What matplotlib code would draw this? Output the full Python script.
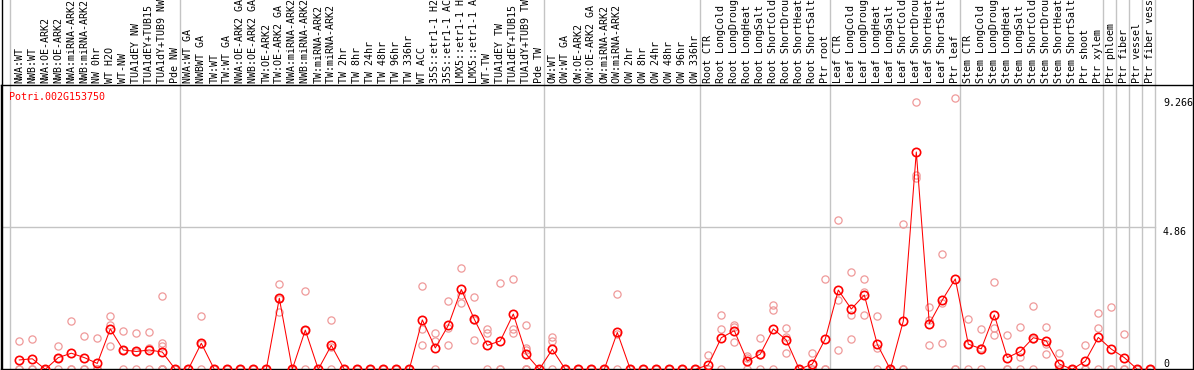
import matplotlib
matplotlib.use("Agg")
import matplotlib.pyplot as plt
from matplotlib.transforms import blended_transform_factory
import numpy as np

# ---------------- data ----------------
gene_id = "Potri.002G153750"

labels_g1 = ["NWA:WT", "NWB:WT", "NWA:OE-ARK2", "NWB:OE-ARK2", "NWA:miRNA-ARK2",
             "NWB:miRNA-ARK2", "NW 0hr", "WT H2O", "WT-NW", "TUA1dEY NW",
             "TUA1dEY+TUB15 NW", "TUA1dY+TUB9 NW", "Pde NW"]
labels_g2 = ["NWA:WT GA", "NWBWT GA", "TW:WT", "TW:WT GA", "NWA:OE-ARK2 GA",
             "NWB:OE-ARK2 GA", "TW:OE-ARK2", "TW:OE-ARK2 GA", "NWA:miRNA-ARK2 GA",
             "NWB:miRNA-ARK2 GA", "TW:miRNA-ARK2", "TW:miRNA-ARK2 GA", "TW 2hr", "TW 8hr",
             "TW 24hr", "TW 48hr", "TW 96hr", "TW 336hr", "WT ACC", "35S::etr1-1 H2O",
             "35S::etr1-1 ACC", "LMX5::etr1-1 H2O", "LMX5::etr1-1 ACC", "WT-TW",
             "TUA1dEY TW", "TUA1dEY+TUB15 TW", "TUA1dY+TUB9 TW", "Pde TW"]
labels_g3 = ["OW:WT", "OW:WT GA", "OW:OE-ARK2", "OW:OE-ARK2 GA", "OW:miRNA-ARK2",
             "OW:miRNA-ARK2 GA", "OW 2hr", "OW 8hr", "OW 24hr", "OW 48hr", "OW 96hr",
             "OW 336hr"]
labels_g4 = ["Root CTR", "Root LongCold", "Root LongDrought", "Root LongHeat",
             "Root LongSalt", "Root ShortCold", "Root ShortDrought", "Root ShortHeat",
             "Root ShortSalt", "Ptr root"]
labels_g5 = ["Leaf CTR", "Leaf LongCold", "Leaf LongDrought", "Leaf LongHeat",
             "Leaf LongSalt", "Leaf ShortCold", "Leaf ShortDrought", "Leaf ShortHeat",
             "Leaf ShortSalt", "Ptr leaf"]
labels_g6 = ["Stem CTR", "Stem LongCold", "Stem LongDrought", "Stem LongHeat",
             "Stem LongSalt", "Stem ShortCold", "Stem ShortDrought", "Stem ShortHeat",
             "Stem ShortSalt", "Ptr shoot", "Ptr xylem"]
labels_g7 = ["Ptr phloem", "Ptr fiber", "Ptr vessel", "Ptr fiber vessel"]

means = [0.32, 0.36, 0, 0.40, 0.55, 0.40, 0.20, 1.38, 0.66, 0.61, 0.66, 0.59, 0,
         0, 0.89, 0, 0, 0, 0, 0, 2.43, 0, 1.34, 0, 0.82, 0, 0, 0, 0, 0, 0,
         1.69, 0.73, 1.50, 2.73, 1.71, 0.82, 0.97, 1.89, 0.51, 0,
         0.68, 0, 0, 0, 0, 1.26, 0, 0, 0, 0, 0, 0,
         0.15, 1.08, 1.32, 0.28, 0.52, 1.38, 1.00, 0, 0.18, 1.04,
         2.71, 2.06, 2.54, 0.85, 0, 1.65, 7.43, 1.56, 2.37, 3.09,
         0.86, 0.70, 1.86, 0.40, 0.61, 1.08, 0.97, 0.18, 0, 0.28, 1.09,
         0.69, 0.40, 0, 0]

Z = [0, 0, 0]
replicates = [
    [0.97, 0, 0], [1.04, 0, 0], Z, [0.80, 0.40, 0], [1.65, 0, 0], [1.13, 0, 0],
    [1.07, 0, 0, 0, 0], [1.81, 1.51, 0.80], [1.31, 0.67, 0], [1.23, 0.60, 0],
    [1.26, 0.72, 0], [2.50, 0.89, 0.80, 0, 0, 0, 0], Z,
    Z, [1.82, 0.85, 0], Z, Z, Z, Z, Z, [2.92, 2.40, 1.97], Z, [2.68, 1.34, 0], Z,
    [1.69, 0.77, 0], Z, Z, Z, Z, Z, Z,
    [2.84, 1.37, 0.82], [1.23, 0.96, 0], [2.32, 1.40, 0.82], [3.45, 2.54, 2.27],
    [2.46, 1.67, 1.00], [1.37, 1.23, 0], [2.95, 0, 0], [3.08, 1.37, 1.23],
    [1.50, 0.73, 0.66, 0, 0, 0], Z,
    [1.09, 0.96, 0], Z, Z, Z, Z, [2.56, 1.22, 0], Z, Z, Z, Z, Z, Z,
    [0.48, 0, 0], [1.85, 1.37, 0], [1.51, 1.45, 0.92], [0.45, 0.40, 0],
    [1.07, 0.50, 0], [2.19, 2.03, 0], [1.41, 1.09, 0.56], Z, [0.55, 0, 0], [3.08, 0, 0],
    [5.10, 2.37, 0.66], [3.33, 1.85, 1.04], [3.08, 2.65, 1.85], [1.81, 0.73, 0], Z,
    [4.97, 0, 0], [9.13, 6.64, 6.53], [2.12, 1.69, 0.82], [3.94, 2.28, 0.89],
    [9.266, 0, 0],
    [1.72, 0.87, 0], [1.38, 0.72, 0], [2.98, 1.40, 1.16], [1.16, 0, 0],
    [1.45, 0.43, 0], [2.15, 1.04, 0], [1.45, 0.85, 0.52], [0.56, 0, 0], Z,
    [0.82, 0, 0], [1.92, 1.40, 0],
    [2.13, 0, 0], [1.20, 0, 0], Z, Z,
]

y_ticks = [0, 4.86, 9.266]
y_top = 9.72

# ---------------- plot ----------------
groups = [labels_g1, labels_g2, labels_g3, labels_g4, labels_g5, labels_g6]
labels = sum(groups, []) + labels_g7
n = len(labels)
x = np.arange(n)

bounds = []
c = 0
for g in groups:
    c += len(g)
    bounds.append(c - 1)
for k in range(len(labels_g7)):
    bounds.append(c + k)

W, H = 1194, 370
fig = plt.figure(figsize=(W / 100, H / 100), dpi=100)
ax_top_px, ax_bot_px = 85, 369.3
ax = fig.add_axes([1 / W, (H - ax_bot_px) / H, (1193.5 - 1) / W, (ax_bot_px - ax_top_px) / H])
x0_px, dx_px = 19.3, 13.0
ax.set_xlim((1 - x0_px) / dx_px, (1193.5 - x0_px) / dx_px)
ax.set_ylim(0, y_top)
ax.set_xticks([])
ax.set_yticks([])
for s in ax.spines.values():
    s.set_color("black")
    s.set_linewidth(1.0)

grid_c = "#c4c4c4"
tr = blended_transform_factory(ax.transData, fig.transFigure)
vlines = [-0.69] + [b + 0.38 for b in bounds]
for v in vlines:
    ax.plot([v, v], [0, 1], transform=tr, color=grid_c, lw=1.0, clip_on=False, zorder=0.5)
ax.plot([ax.get_xlim()[0], vlines[-1]], [y_ticks[1], y_ticks[1]], color=grid_c, lw=1.0, zorder=0.5)

ftr = fig.transFigure
fig.add_artist(plt.Line2D([1.5 / W, 1.5 / W], [0, 1], color="black", lw=1.0, transform=ftr))
fig.add_artist(plt.Line2D([1193.2 / W, 1193.2 / W], [0, 1], color="black", lw=1.0, transform=ftr))

for i, reps in enumerate(replicates):
    ax.plot([i] * len(reps), reps, linestyle="none", marker="o", ms=5.2,
            mfc="none", mec="#ef9a9a", mew=0.9, zorder=2)

ax.plot(x, means, color="#ff0000", lw=0.75, zorder=3)
ax.plot(x, means, linestyle="none", marker="o", ms=6.0, mfc="none",
        mec="#ff0000", mew=1.2, zorder=4)

lab_y = (H - 83) / H
for i, lab in enumerate(labels):
    ax.text(i, lab_y, lab, transform=tr, rotation=90, ha="center", va="bottom",
            fontsize=7.2, family="DejaVu Sans Mono", color="black", clip_on=False)

fig.text(9.3 / W, 1 - 96.7 / H, gene_id, color="#ff0000", fontsize=7.2,
         family="DejaVu Sans Mono", ha="left", va="center")

xr = (1163 - x0_px) / dx_px
for v in y_ticks:
    ax.text(xr, v, ("%g" % v), ha="left", va=("bottom" if v == 0 else "top"),
            fontsize=7.2, family="DejaVu Sans Mono", color="black")

fig.savefig("out.png", dpi=100)
